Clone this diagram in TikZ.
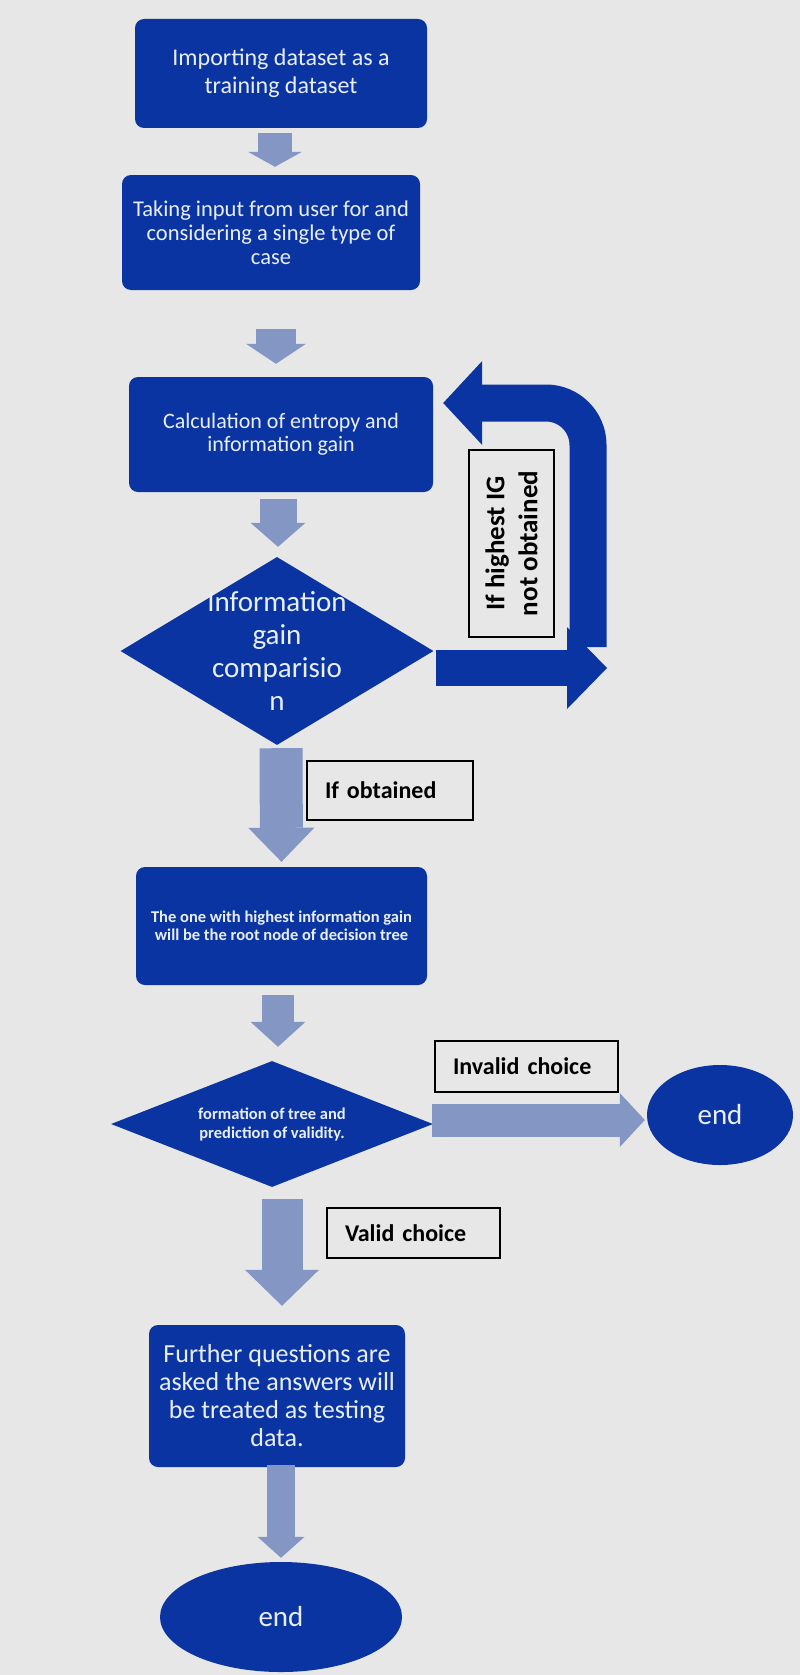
\documentclass[tikz,border=0pt]{standalone}
\usepackage{fontspec}
\setmainfont{Carlito}
\usetikzlibrary{arrows.meta,shapes.geometric,calc}
\definecolor{bg}{RGB}{231,231,231}
\definecolor{dblue}{RGB}{10,52,162}
\definecolor{lblue}{RGB}{132,150,196}
\definecolor{btext}{RGB}{232,238,250}
\begin{document}
\begin{tikzpicture}[x=1pt,y=-1pt,
  box/.style={fill=dblue, rounded corners=9pt, text=btext, align=center, inner sep=0pt},
  dia/.style={diamond, fill=dblue, inner sep=0pt},
  dtext/.style={text=btext, align=center, inner sep=0pt},
  term/.style={ellipse, fill=dblue, text=btext, inner sep=0pt, font=\fontsize{29}{32}\selectfont},
  lab/.style={draw=black, line width=1.5pt, fill=bg, inner xsep=18pt, inner ysep=0pt, align=left, text=black, font=\bfseries\fontsize{24}{28}\selectfont},
  fat/.style n args={3}{draw=lblue, line width=#1, -{Triangle[length=#3, width=#2, line width=0pt]}},
  dfat/.style n args={3}{draw=dblue, line width=#1, -{Triangle[length=#3, width=#2, line width=0pt]}},
]
\fill[bg] (0,0) rectangle (800,1675);
\useasboundingbox (0,0) rectangle (800,1675);

% process boxes
\node[box, minimum width=292pt, minimum height=109pt, font=\fontsize{24}{28}\selectfont] (b1) at (281,73.5) {Importing dataset as a\\training dataset};
\node[box, minimum width=298pt, minimum height=115pt, font=\fontsize{22.5}{24}\selectfont] (b2) at (271,232.5) {Taking input from user for and\\considering a single type of\\case};
\node[box, minimum width=304pt, minimum height=115pt, font=\fontsize{22}{23}\selectfont] (b3) at (281,434.5) {Calculation of entropy and\\information gain};
\node[dia, minimum width=313pt, minimum height=188pt] (d1) at (277,651) {};
\node[dtext, font=\fontsize{29}{33}\selectfont] (d1t) at (d1.center) {Information\\gain\\comparisio\\n};
\node[box, minimum width=291pt, minimum height=118pt, font=\bfseries\fontsize{16.5}{18}\selectfont] (b4) at (281.5,926) {The one with highest information gain\\will be the root node of decision tree};
\node[dia, minimum width=322pt, minimum height=126pt] (d2) at (272,1124) {};
\node[dtext, font=\bfseries\fontsize{16.5}{19}\selectfont] (d2t) at (d2.center) {formation of tree and\\prediction of validity.};
\node[box, minimum width=256pt, minimum height=142pt, font=\fontsize{26}{28}\selectfont] (b5) at (277,1396) {Further questions are\\asked the answers will\\be treated as testing\\data.};
\node[term, minimum width=146pt, minimum height=100pt] (e1) at (720,1115) {end};
\node[term, minimum width=242pt, minimum height=110pt] (e2) at (281,1617) {end};

% labels
\node[lab, text width=130pt, minimum height=59pt] (lo) at (390,790.5) {If obtained};
\node[lab, text width=147pt, minimum height=51pt] (li) at (526.5,1066.5) {Invalid choice};
\node[lab, text width=137pt, minimum height=50pt] (lv) at (413.5,1233) {Valid choice};
\node[draw=black, line width=1.5pt, fill=bg, rotate=90, inner sep=0pt, align=center, text=black,
      minimum width=187pt, minimum height=85pt, font=\bfseries\fontsize{27}{33}\selectfont] (lr) at (511.5,543.5) {If highest IG\\not obtained};

% light connectors
\draw[fat={34pt}{54pt}{15pt}] ([xshift=-6pt,yshift=-5pt]b1.south) -- ([xshift=4pt,yshift=8pt]b2.north);
\draw[fat={40pt}{60pt}{20pt}] ([xshift=5pt,yshift=-39pt]b2.south) -- ([xshift=-5pt,yshift=13pt]b3.north);
\draw[fat={37pt}{55pt}{24pt}] ([xshift=-3pt,yshift=-7pt]b3.south) -- ([xshift=1pt,yshift=10pt]d1.north);
\draw[fat={43pt}{66pt}{34pt}] ([xshift=4pt,yshift=-3pt]d1.south) -- ([yshift=5pt]b4.north);
\draw[fat={32pt}{55pt}{25pt}] ([xshift=-3.5pt,yshift=-10pt]b4.south) -- ([xshift=6pt,yshift=14pt]d2.north);
\draw[fat={41pt}{74pt}{36pt}] ([xshift=10pt,yshift=-12pt]d2.south) -- ([xshift=5pt,yshift=19pt]b5.north);
\draw[fat={28pt}{47pt}{21pt}] ([xshift=4pt,yshift=2pt]b5.south) -- ([yshift=4pt]e2.north);
\draw[fat={33pt}{54pt}{25pt}] ([xshift=-1pt,yshift=4pt]d2.east) -- ([xshift=-2pt,yshift=-5pt]e1.west);

% loop connectors
\coordinate (cr) at (607,668);
\coordinate (cb) at (588,647);
\draw[dfat={36pt}{82pt}{40pt}] ([xshift=2pt,yshift=-17pt]d1.east) -- (cr);
\draw[dfat={37pt}{84pt}{39pt}, rounded corners=42pt] (cb) |- ([xshift=10pt,yshift=31.5pt]b3.east);
\end{tikzpicture}
\end{document}
